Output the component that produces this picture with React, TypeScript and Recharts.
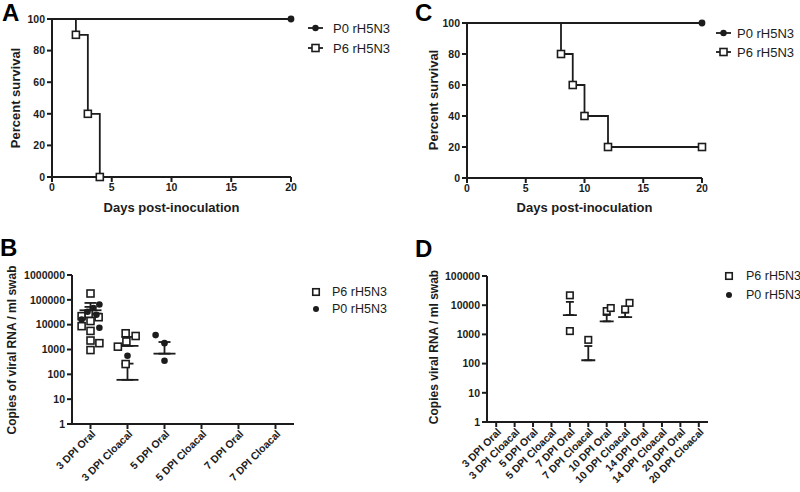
import React from 'react'
import { ErrorBar, Line, LineChart, Scatter, ScatterChart, XAxis, YAxis } from 'recharts'

const FONT = '"Liberation Sans", Arial, Helvetica, sans-serif'
const INK = '#1c1c1c'

// survival curves (A, C): days post-inoculation vs percent survival
const dayTicks = [0, 5, 10, 15, 20]
const pctTicks = [0, 20, 40, 60, 80, 100]
const aP0 = [
  { day: 0, pct: 100 },
  { day: 20, pct: 100 },
]
const aP6 = [
  { day: 0, pct: 100 },
  { day: 2, pct: 90 },
  { day: 3, pct: 40 },
  { day: 4, pct: 0 },
]
const cP0 = [
  { day: 0, pct: 100 },
  { day: 20, pct: 100 },
]
const cP6 = [
  { day: 0, pct: 100 },
  { day: 8, pct: 80 },
  { day: 9, pct: 60 },
  { day: 10, pct: 40 },
  { day: 12, pct: 20 },
  { day: 20, pct: 20 },
]

// viral shedding (B): x is the category number plus the jitter the figure uses
const bCats = ['3 DPI Oral', '3 DPI Cloacal', '5 DPI Oral', '5 DPI Cloacal', '7 DPI Oral', '7 DPI Cloacal']
const bTicks = [1, 10, 100, 1000, 10000, 100000, 1000000]
const bP6 = [
  { x: 1, y: 180000 },
  { x: 0.76, y: 22000 },
  { x: 0.95, y: 27000 },
  { x: 1.22, y: 20000 },
  { x: 1, y: 14000 },
  { x: 0.76, y: 8700 },
  { x: 1, y: 5600 },
  { x: 1, y: 2300 },
  { x: 1.24, y: 1800 },
  { x: 1, y: 950 },
  { x: 1.74, y: 1300 },
  { x: 1.95, y: 4500 },
  { x: 2.22, y: 3500 },
  { x: 1.97, y: 2100 },
  { x: 1.95, y: 260 },
]
const bP0 = [
  { x: 0.76, y: 16000 },
  { x: 0.92, y: 33000 },
  { x: 1.08, y: 47000 },
  { x: 1.24, y: 65000 },
  { x: 1.16, y: 25000 },
  { x: 1.24, y: 7500 },
  { x: 2, y: 560 },
  { x: 2.76, y: 3800 },
  { x: 3, y: 1800 },
  { x: 3, y: 350 },
]
const bMeans = [
  { x: 1, mean: 28000, top: 75000 },
  { x: 1, mean: 38000, top: 52000 },
  { x: 2, mean: 1400, top: 3200 },
  { x: 2, mean: 60, top: 270 },
  { x: 3, mean: 680, top: 2000 },
]

// viral shedding (D): only the P6 birds shed
const dCats = [
  '3 DPI Oral', '3 DPI Cloacal', '5 DPI Oral', '5 DPI Cloacal', '7 DPI Oral', '7 DPI Cloacal',
  '10 DPI Oral', '10 DPI Cloacal', '14 DPI Oral', '14 DPI Cloacal', '20 DPI Oral', '20 DPI Cloacal',
]
const dTicks = [1, 10, 100, 1000, 10000, 100000]
const dP6 = [
  { x: 5, y: 21800 },
  { x: 5, y: 1300 },
  { x: 6, y: 650 },
  { x: 7, y: 6300 },
  { x: 7.22, y: 8000 },
  { x: 8, y: 7200 },
  { x: 8.24, y: 12000 },
]
const dMeans = [
  { x: 5, mean: 4600, top: 13000 },
  { x: 6, mean: 130, top: 400 },
  { x: 7, mean: 2800, top: 4600 },
  { x: 8, mean: 3900, top: 5600 },
]

const tickStyle = { fill: INK, fontSize: 10.5, fontWeight: 700, fontFamily: FONT }
const axisLine = { stroke: INK, strokeWidth: 2 }

const square = (size: number) => (p: any) => (
  <rect x={p.cx - size / 2} y={p.cy - size / 2} width={size} height={size} fill="#fff" stroke={INK} strokeWidth={1.6} />
)
const dot = (p: any) => <circle cx={p.cx} cy={p.cy} r={3.3} fill={INK} />
const meanLine = (w: number) => (p: any) => (
  <line x1={p.cx - w / 2} x2={p.cx + w / 2} y1={p.cy} y2={p.cy} stroke={INK} strokeWidth={1.8} />
)

function Survival({
  p0,
  p6,
  yWidth,
  top,
  right,
  xHeight,
}: {
  p0: { day: number; pct: number }[]
  p6: { day: number; pct: number }[]
  yWidth: number
  top: number
  right: number
  xHeight: number
}) {
  return (
    <LineChart width={400} height={225} margin={{ top, right, bottom: 0, left: 0 }}>
      <XAxis
        type="number"
        dataKey="day"
        domain={[0, 20]}
        ticks={dayTicks}
        height={xHeight}
        tick={tickStyle}
        tickSize={5}
        tickMargin={2}
        axisLine={axisLine}
        tickLine={axisLine}
      />
      <YAxis
        type="number"
        domain={[0, 100]}
        ticks={pctTicks}
        width={yWidth}
        tick={tickStyle}
        tickSize={5}
        tickMargin={2}
        axisLine={axisLine}
        tickLine={axisLine}
      />
      <Line
        data={p6}
        dataKey="pct"
        type="stepAfter"
        stroke={INK}
        strokeWidth={1.8}
        activeDot={false}
        isAnimationActive={false}
        // the first point is the start of the curve, not an event
        dot={(p: any) =>
          p.index === 0 ? (
            <g key={`p6-${p.index}`} />
          ) : (
            <rect key={`p6-${p.index}`} x={p.cx - 3.5} y={p.cy - 3.5} width={7} height={7} fill="#fff" stroke={INK} strokeWidth={1.6} />
          )
        }
      />
      <Line
        data={p0}
        dataKey="pct"
        type="stepAfter"
        stroke={INK}
        strokeWidth={1.8}
        activeDot={false}
        isAnimationActive={false}
        dot={(p: any) =>
          p.index === p0.length - 1 ? (
            <circle key={`p0-${p.index}`} cx={p.cx} cy={p.cy} r={3.4} fill={INK} />
          ) : (
            <g key={`p0-${p.index}`} />
          )
        }
      />
    </LineChart>
  )
}

function Shedding({
  cats,
  yTicks,
  p6,
  p0,
  means,
  yWidth,
  top,
  right,
  xHeight,
  meanW,
  capW,
  box,
}: {
  cats: string[]
  yTicks: number[]
  p6: { x: number; y: number }[]
  p0: { x: number; y: number }[]
  means: { x: number; mean: number; top: number }[]
  yWidth: number
  top: number
  right: number
  xHeight: number
  meanW: number
  capW: number
  box: number
}) {
  const meanRows = means.map((m) => ({ x: m.x, y: m.mean, err: [0, m.top - m.mean] }))
  const catTick = (p: any) => (
    <g transform={`translate(${p.x + 3},${p.y + 1})`}>
      <text transform="rotate(-45)" textAnchor="end" dy="0.35em" style={tickStyle} fill={INK}>
        {cats[p.payload.value - 1]}
      </text>
    </g>
  )
  return (
    <ScatterChart width={400} height={252} margin={{ top, right, bottom: 0, left: 0 }}>
      <XAxis
        type="number"
        dataKey="x"
        domain={[0.5, cats.length + 0.5]}
        ticks={cats.map((_, i) => i + 1)}
        interval={0}
        height={xHeight}
        tick={catTick}
        tickSize={5}
        tickMargin={2}
        axisLine={axisLine}
        tickLine={axisLine}
      />
      <YAxis
        type="number"
        dataKey="y"
        scale="log"
        domain={[1, yTicks[yTicks.length - 1]]}
        allowDataOverflow
        ticks={yTicks}
        interval={0}
        tickFormatter={(v) => String(v)}
        width={yWidth}
        tick={tickStyle}
        tickSize={5}
        tickMargin={2}
        axisLine={axisLine}
        tickLine={axisLine}
      />
      <Scatter data={meanRows} shape={meanLine(meanW)} isAnimationActive={false}>
        <ErrorBar dataKey="err" direction="y" width={capW} stroke={INK} strokeWidth={1.8} isAnimationActive={false} />
      </Scatter>
      <Scatter data={p6} shape={square(box)} isAnimationActive={false} />
      {p0.length > 0 && <Scatter data={p0} shape={dot} isAnimationActive={false} />}
    </ScatterChart>
  )
}

function Overlay() {
  const letter = { fontSize: 24, fontWeight: 700, fill: '#000', fontFamily: FONT }
  const title = { fontSize: 13, fontWeight: 700, fill: INK, fontFamily: FONT }
  const ytitle = { fontSize: 12, fontWeight: 700, fill: INK, fontFamily: FONT }
  const legend = { fontSize: 13, fill: INK, fontFamily: FONT }
  const sq = (x: number, y: number, s = 7) => (
    <rect x={x - s / 2} y={y - s / 2} width={s} height={s} fill="#fff" stroke={INK} strokeWidth={1.6} />
  )
  return (
    <svg width={800} height={492} style={{ position: 'absolute', left: 0, top: 0, pointerEvents: 'none' }}>
      <text x={2} y={21} style={letter}>A</text>
      <text x={415} y={21} style={letter}>C</text>
      <text x={0} y={256} style={letter}>B</text>
      <text x={415} y={257} style={letter}>D</text>

      <text x={171.5} y={212} textAnchor="middle" style={title}>Days post-inoculation</text>
      <text x={584.5} y={212} textAnchor="middle" style={title}>Days post-inoculation</text>
      <text transform="translate(15,98) rotate(-90)" textAnchor="middle" dominantBaseline="central" style={title}>
        Percent survival
      </text>
      <text transform="translate(433,100) rotate(-90)" textAnchor="middle" dominantBaseline="central" style={title}>
        Percent survival
      </text>
      <text transform="translate(12,350) rotate(-90)" textAnchor="middle" dominantBaseline="central" style={ytitle}>
        Copies of viral RNA / ml swab
      </text>
      <text transform="translate(434,347) rotate(-90)" textAnchor="middle" dominantBaseline="central" style={ytitle}>
        Copies viral RNA / ml swab
      </text>

      {/* survival legends: line plus marker */}
      <line x1={308} x2={323} y1={28} y2={28} stroke={INK} strokeWidth={1.8} />
      <circle cx={315.5} cy={28} r={3.2} fill={INK} />
      <text x={333} y={28} dominantBaseline="central" style={legend}>P0 rH5N3</text>
      <line x1={308} x2={323} y1={48} y2={48} stroke={INK} strokeWidth={1.8} />
      {sq(315.5, 48)}
      <text x={333} y={48} dominantBaseline="central" style={legend}>P6 rH5N3</text>

      <line x1={716} x2={731} y1={33} y2={33} stroke={INK} strokeWidth={1.8} />
      <circle cx={723.5} cy={33} r={3.2} fill={INK} />
      <text x={737} y={33} dominantBaseline="central" style={legend}>P0 rH5N3</text>
      <line x1={716} x2={731} y1={52} y2={52} stroke={INK} strokeWidth={1.8} />
      {sq(723.5, 52)}
      <text x={737} y={52} dominantBaseline="central" style={legend}>P6 rH5N3</text>

      {/* shedding legends: marker only */}
      {sq(316, 292, 6.5)}
      <text x={332} y={292} dominantBaseline="central" style={{ ...legend, fontSize: 12.5 }}>P6 rH5N3</text>
      <circle cx={316} cy={309} r={3} fill={INK} />
      <text x={332} y={309} dominantBaseline="central" style={{ ...legend, fontSize: 12.5 }}>P0 rH5N3</text>

      {sq(729, 276, 6.5)}
      <text x={746} y={276} dominantBaseline="central" style={{ ...legend, fontSize: 12.5 }}>P6 rH5N3</text>
      <circle cx={729} cy={295} r={3} fill={INK} />
      <text x={746} y={295} dominantBaseline="central" style={{ ...legend, fontSize: 12.5 }}>P0 rH5N3</text>
    </svg>
  )
}

export default function App() {
  return (
    <div style={{ position: 'absolute', left: 0, top: 0, width: 800, height: 492, background: '#fff', fontFamily: FONT, overflow: 'hidden' }}>
      <div style={{ position: 'absolute', left: 0, top: 0 }}>
        <Survival p0={aP0} p6={aP6} yWidth={52} top={19} right={109} xHeight={48} />
      </div>
      <div style={{ position: 'absolute', left: 400, top: 0 }}>
        <Survival p0={cP0} p6={cP6} yWidth={67} top={23} right={98} xHeight={47} />
      </div>
      <div style={{ position: 'absolute', left: 0, top: 240 }}>
        <Shedding
          cats={bCats}
          yTicks={bTicks}
          p6={bP6}
          p0={bP0}
          means={bMeans}
          yWidth={72}
          top={35}
          right={106}
          xHeight={68}
          meanW={22}
          capW={6}
          box={7}
        />
      </div>
      <div style={{ position: 'absolute', left: 400, top: 240 }}>
        <Shedding
          cats={dCats}
          yTicks={dTicks}
          p6={dP6}
          p0={[]}
          means={dMeans}
          yWidth={87}
          top={36}
          right={92}
          xHeight={70}
          meanW={14}
          capW={4}
          box={6.5}
        />
      </div>
      <Overlay />
    </div>
  )
}
